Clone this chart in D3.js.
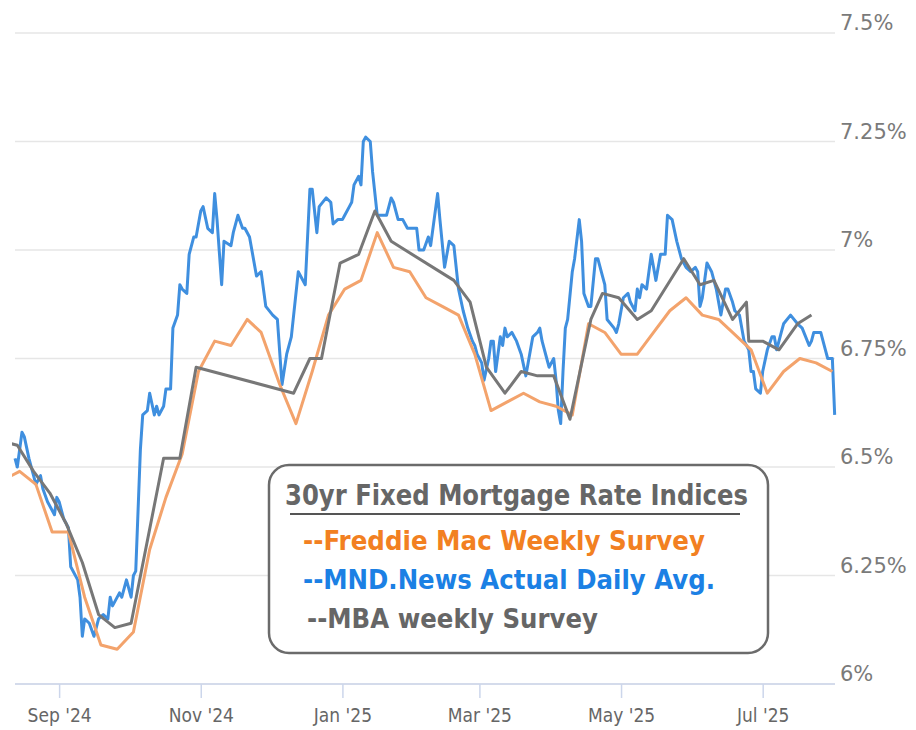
<!DOCTYPE html>
<html>
<head>
<meta charset="utf-8">
<script src="https://cdn.jsdelivr.net/npm/d3@7"></script>
<style>
  body { margin: 0; background: #fff; }
  svg { display: block; }
</style>
</head>
<body>
<script>
const width = 916, height = 730;

// ---- data ----
const yTicks = [6, 6.25, 6.5, 6.75, 7, 7.25, 7.5];
const xTicks = ["2024-09-01", "2024-11-01", "2025-01-01", "2025-03-01", "2025-05-01", "2025-07-01"];

const legendTitle = "30yr Fixed Mortgage Rate Indices";
const seriesNames = ["--Freddie Mac Weekly Survey", "--MND.News Actual Daily Avg.", "--MBA weekly Survey"];

// Freddie Mac weekly survey
const freddieMac = [
  ["2024-08-08", 6.47], ["2024-08-15", 6.49], ["2024-08-22", 6.46], ["2024-08-29", 6.35],
  ["2024-09-05", 6.35], ["2024-09-12", 6.20], ["2024-09-19", 6.09], ["2024-09-26", 6.08],
  ["2024-10-03", 6.12], ["2024-10-10", 6.31], ["2024-10-17", 6.43], ["2024-10-24", 6.53],
  ["2024-10-31", 6.72], ["2024-11-07", 6.79], ["2024-11-14", 6.78], ["2024-11-21", 6.84],
  ["2024-11-27", 6.81], ["2024-12-05", 6.69], ["2024-12-12", 6.60], ["2024-12-19", 6.72],
  ["2024-12-26", 6.85], ["2025-01-02", 6.91], ["2025-01-09", 6.93], ["2025-01-16", 7.04],
  ["2025-01-23", 6.96], ["2025-01-30", 6.95], ["2025-02-06", 6.89], ["2025-02-13", 6.87],
  ["2025-02-20", 6.85], ["2025-02-27", 6.76], ["2025-03-06", 6.63], ["2025-03-13", 6.65],
  ["2025-03-20", 6.67], ["2025-03-27", 6.65], ["2025-04-03", 6.64], ["2025-04-10", 6.62],
  ["2025-04-17", 6.83], ["2025-04-24", 6.81], ["2025-05-01", 6.76], ["2025-05-08", 6.76],
  ["2025-05-15", 6.81], ["2025-05-22", 6.86], ["2025-05-29", 6.89], ["2025-06-05", 6.85],
  ["2025-06-12", 6.84], ["2025-06-18", 6.81], ["2025-06-26", 6.77], ["2025-07-03", 6.67],
  ["2025-07-10", 6.72], ["2025-07-17", 6.75], ["2025-07-24", 6.74], ["2025-07-31", 6.72]
];

// MND daily average
const mndDaily = [
  ["2024-08-13", 6.52], ["2024-08-14", 6.50], ["2024-08-16", 6.58], ["2024-08-17", 6.57],
  ["2024-08-19", 6.52], ["2024-08-21", 6.48], ["2024-08-22", 6.46], ["2024-08-24", 6.48],
  ["2024-08-25", 6.45], ["2024-08-27", 6.42], ["2024-08-30", 6.39], ["2024-08-31", 6.43],
  ["2024-09-01", 6.42], ["2024-09-03", 6.38], ["2024-09-05", 6.36], ["2024-09-06", 6.27],
  ["2024-09-09", 6.24], ["2024-09-10", 6.20], ["2024-09-11", 6.11], ["2024-09-12", 6.15],
  ["2024-09-14", 6.14], ["2024-09-16", 6.11], ["2024-09-18", 6.15], ["2024-09-20", 6.16],
  ["2024-09-22", 6.15], ["2024-09-23", 6.20], ["2024-09-24", 6.18], ["2024-09-27", 6.21],
  ["2024-09-28", 6.20], ["2024-09-30", 6.24], ["2024-10-02", 6.20], ["2024-10-03", 6.25],
  ["2024-10-04", 6.26], ["2024-10-06", 6.54], ["2024-10-07", 6.62], ["2024-10-09", 6.63],
  ["2024-10-10", 6.67], ["2024-10-12", 6.62], ["2024-10-13", 6.64], ["2024-10-14", 6.62],
  ["2024-10-16", 6.64], ["2024-10-17", 6.68], ["2024-10-19", 6.68], ["2024-10-20", 6.82],
  ["2024-10-22", 6.85], ["2024-10-23", 6.92], ["2024-10-24", 6.91], ["2024-10-26", 6.90],
  ["2024-10-27", 6.99], ["2024-10-29", 7.03], ["2024-10-30", 7.03], ["2024-11-01", 7.09],
  ["2024-11-02", 7.10], ["2024-11-04", 7.05], ["2024-11-06", 7.04], ["2024-11-07", 7.13],
  ["2024-11-08", 7.07], ["2024-11-10", 6.92], ["2024-11-11", 7.02], ["2024-11-14", 7.01],
  ["2024-11-15", 7.04], ["2024-11-17", 7.08], ["2024-11-19", 7.05], ["2024-11-20", 7.05],
  ["2024-11-22", 7.03], ["2024-11-25", 6.94], ["2024-11-27", 6.95], ["2024-11-29", 6.87],
  ["2024-12-02", 6.85], ["2024-12-04", 6.84], ["2024-12-06", 6.69], ["2024-12-08", 6.76],
  ["2024-12-10", 6.80], ["2024-12-13", 6.95], ["2024-12-16", 6.92], ["2024-12-18", 7.14],
  ["2024-12-19", 7.14], ["2024-12-21", 7.04], ["2024-12-22", 7.10], ["2024-12-25", 7.12],
  ["2024-12-27", 7.11], ["2024-12-28", 7.06], ["2024-12-30", 7.07], ["2025-01-01", 7.07],
  ["2025-01-02", 7.08], ["2025-01-04", 7.10], ["2025-01-05", 7.11], ["2025-01-06", 7.15],
  ["2025-01-08", 7.17], ["2025-01-09", 7.15], ["2025-01-10", 7.25], ["2025-01-11", 7.26],
  ["2025-01-13", 7.25], ["2025-01-14", 7.18], ["2025-01-16", 7.08], ["2025-01-19", 7.08],
  ["2025-01-20", 7.08], ["2025-01-22", 7.12], ["2025-01-23", 7.11], ["2025-01-25", 7.07],
  ["2025-01-27", 7.07], ["2025-01-29", 7.05], ["2025-02-02", 7.05], ["2025-02-03", 7.00],
  ["2025-02-05", 7.00], ["2025-02-07", 7.03], ["2025-02-08", 7.01], ["2025-02-11", 7.13],
  ["2025-02-12", 7.07], ["2025-02-14", 6.96], ["2025-02-16", 7.02], ["2025-02-18", 7.01],
  ["2025-02-20", 6.91], ["2025-02-22", 6.86], ["2025-02-24", 6.82], ["2025-02-26", 6.79],
  ["2025-02-27", 6.78], ["2025-02-28", 6.76], ["2025-03-02", 6.74], ["2025-03-03", 6.70],
  ["2025-03-05", 6.75], ["2025-03-06", 6.79], ["2025-03-07", 6.79], ["2025-03-08", 6.72],
  ["2025-03-10", 6.80], ["2025-03-11", 6.78], ["2025-03-12", 6.82], ["2025-03-13", 6.80],
  ["2025-03-15", 6.81], ["2025-03-17", 6.79], ["2025-03-19", 6.76], ["2025-03-21", 6.71],
  ["2025-03-22", 6.74], ["2025-03-24", 6.80], ["2025-03-26", 6.81], ["2025-03-27", 6.82],
  ["2025-03-28", 6.79], ["2025-03-30", 6.75], ["2025-03-31", 6.73], ["2025-04-02", 6.75],
  ["2025-04-03", 6.70], ["2025-04-04", 6.63], ["2025-04-05", 6.60], ["2025-04-06", 6.72],
  ["2025-04-07", 6.82], ["2025-04-08", 6.84], ["2025-04-10", 6.95], ["2025-04-11", 6.98],
  ["2025-04-13", 7.07], ["2025-04-14", 7.02], ["2025-04-15", 6.90], ["2025-04-17", 6.87],
  ["2025-04-18", 6.87], ["2025-04-20", 6.98], ["2025-04-21", 6.98], ["2025-04-23", 6.94],
  ["2025-04-24", 6.92], ["2025-04-25", 6.84], ["2025-04-28", 6.82], ["2025-04-29", 6.81],
  ["2025-04-30", 6.83], ["2025-05-02", 6.89], ["2025-05-04", 6.90], ["2025-05-05", 6.88],
  ["2025-05-07", 6.86], ["2025-05-08", 6.91], ["2025-05-09", 6.89], ["2025-05-10", 6.92],
  ["2025-05-12", 6.91], ["2025-05-14", 6.99], ["2025-05-15", 6.96], ["2025-05-16", 6.93],
  ["2025-05-18", 6.99], ["2025-05-20", 6.99], ["2025-05-21", 7.08], ["2025-05-23", 7.07],
  ["2025-05-25", 7.02], ["2025-05-27", 6.98], ["2025-05-29", 6.96], ["2025-05-31", 6.95],
  ["2025-06-02", 6.96], ["2025-06-03", 6.95], ["2025-06-04", 6.87], ["2025-06-05", 6.89],
  ["2025-06-07", 6.97], ["2025-06-09", 6.95], ["2025-06-11", 6.91], ["2025-06-13", 6.85],
  ["2025-06-15", 6.91], ["2025-06-16", 6.91], ["2025-06-18", 6.88], ["2025-06-19", 6.86],
  ["2025-06-21", 6.85], ["2025-06-23", 6.79], ["2025-06-25", 6.77], ["2025-06-26", 6.72],
  ["2025-06-27", 6.72], ["2025-06-28", 6.68], ["2025-06-30", 6.67], ["2025-07-01", 6.72],
  ["2025-07-03", 6.77], ["2025-07-05", 6.80], ["2025-07-06", 6.80], ["2025-07-07", 6.77],
  ["2025-07-09", 6.81], ["2025-07-10", 6.83], ["2025-07-13", 6.85], ["2025-07-16", 6.83],
  ["2025-07-18", 6.82], ["2025-07-21", 6.78], ["2025-07-22", 6.79], ["2025-07-23", 6.81],
  ["2025-07-26", 6.81], ["2025-07-28", 6.77], ["2025-07-29", 6.75], ["2025-07-31", 6.75],
  ["2025-08-01", 6.62]
];

// MBA weekly survey
const mbaWeekly = [
  ["2024-08-07", 6.56], ["2024-08-14", 6.55], ["2024-08-21", 6.49], ["2024-08-28", 6.44],
  ["2024-09-04", 6.37], ["2024-09-11", 6.28], ["2024-09-18", 6.16], ["2024-09-25", 6.13],
  ["2024-10-02", 6.14], ["2024-10-16", 6.52], ["2024-10-23", 6.52], ["2024-10-30", 6.73],
  ["2024-12-11", 6.67], ["2024-12-18", 6.75], ["2024-12-23", 6.75], ["2024-12-31", 6.97],
  ["2025-01-08", 6.99], ["2025-01-15", 7.09], ["2025-01-22", 7.02], ["2025-02-18", 6.93],
  ["2025-02-25", 6.88], ["2025-03-04", 6.73], ["2025-03-12", 6.67], ["2025-03-19", 6.72],
  ["2025-03-26", 6.71], ["2025-04-02", 6.71], ["2025-04-09", 6.61], ["2025-04-18", 6.84],
  ["2025-04-23", 6.90], ["2025-04-30", 6.89], ["2025-05-08", 6.84], ["2025-05-14", 6.86],
  ["2025-05-28", 6.98], ["2025-06-04", 6.92], ["2025-06-10", 6.93], ["2025-06-18", 6.84],
  ["2025-06-24", 6.88], ["2025-06-25", 6.79], ["2025-07-01", 6.79], ["2025-07-08", 6.77],
  ["2025-07-16", 6.83], ["2025-07-22", 6.85]
];

// ---- chart ----
const parse = d3.utcParse("%Y-%m-%d");
const svg = d3.select("body").append("svg").attr("width", width).attr("height", height);

const x = d3.scaleUtc()
  .domain([parse("2024-08-13"), parse("2025-08-02")])
  .range([15, 837]);
const y = d3.scaleLinear().domain([6, 7.5]).range([684, 33]);

// gridlines + right-hand labels
svg.append("g")
  .selectAll("line")
  .data(yTicks)
  .enter().append("line")
  .attr("x1", 15).attr("x2", 835)
  .attr("y1", d => y(d)).attr("y2", d => y(d))
  .attr("stroke", "#e6e6e6")
  .attr("stroke-width", 1.5);

svg.append("g")
  .selectAll("text")
  .data(yTicks)
  .enter().append("text")
  .attr("x", 840)
  .attr("y", d => y(d) - 3)
  .attr("fill", "#7a7a7a")
  .style("font-family", "'DejaVu Sans', Verdana, sans-serif")
  .style("font-size", "21px")
  .text(d => d + "%");

// x axis
const xAxis = d3.axisBottom(x)
  .tickValues(xTicks.map(parse))
  .tickFormat(d3.utcFormat("%b '%y"))
  .tickSize(14)
  .tickPadding(11);

const gx = svg.append("g").attr("transform", `translate(0,${y(6)})`).call(xAxis);
gx.select(".domain").attr("d", "M15,0H835").attr("stroke", "#ccd6eb").attr("stroke-width", 1.5);
gx.selectAll(".tick line").attr("stroke", "#ccd6eb").attr("stroke-width", 1.5);
gx.selectAll(".tick text")
  .attr("fill", "#666")
  .style("font-family", "'DejaVu Sans Condensed', 'DejaVu Sans', sans-serif")
  .style("font-size", "19px");

// lines
svg.append("clipPath").attr("id", "plot")
  .append("rect").attr("x", 12).attr("y", 0).attr("width", 826).attr("height", 700);

const line = d3.line()
  .x(d => x(parse(d[0])))
  .y(d => y(d[1]));

const lines = svg.append("g").attr("clip-path", "url(#plot)");
[[mndDaily, "#3f8fdf"], [freddieMac, "#f3a36c"], [mbaWeekly, "#777"]].forEach(([data, color]) => {
  lines.append("path")
    .datum(data)
    .attr("d", line)
    .attr("fill", "none")
    .attr("stroke", color)
    .attr("stroke-width", 3)
    .attr("stroke-linejoin", "round");
});

// legend box
const legend = svg.append("g");
legend.append("rect")
  .attr("x", 269).attr("y", 465)
  .attr("width", 499).attr("height", 188)
  .attr("rx", 20)
  .attr("fill", "#fff")
  .attr("stroke", "#6b6b6b")
  .attr("stroke-width", 2.5);

legend.append("text")
  .attr("x", 285).attr("y", 505)
  .attr("textLength", 463).attr("lengthAdjust", "spacingAndGlyphs")
  .attr("fill", "#666")
  .style("font-family", "'DejaVu Sans', sans-serif")
  .style("font-weight", "bold")
  .style("font-size", "29px")
  .text(legendTitle);

legend.append("line")
  .attr("x1", 290).attr("x2", 740)
  .attr("y1", 514).attr("y2", 514)
  .attr("stroke", "#555")
  .attr("stroke-width", 2);

const legendColors = ["#f28021", "#1b80e4", "#666"];
const legendX = [303, 303, 307], legendY = [550, 589, 628], legendW = [402, 412, 291];

legend.selectAll("text.item")
  .data(seriesNames)
  .enter().append("text")
  .attr("class", "item")
  .attr("x", (d, i) => legendX[i])
  .attr("y", (d, i) => legendY[i])
  .attr("textLength", (d, i) => legendW[i])
  .attr("lengthAdjust", "spacingAndGlyphs")
  .attr("fill", (d, i) => legendColors[i])
  .style("font-family", "'DejaVu Sans', sans-serif")
  .style("font-weight", "bold")
  .style("font-size", "27px")
  .text(d => d);
</script>
</body>
</html>
